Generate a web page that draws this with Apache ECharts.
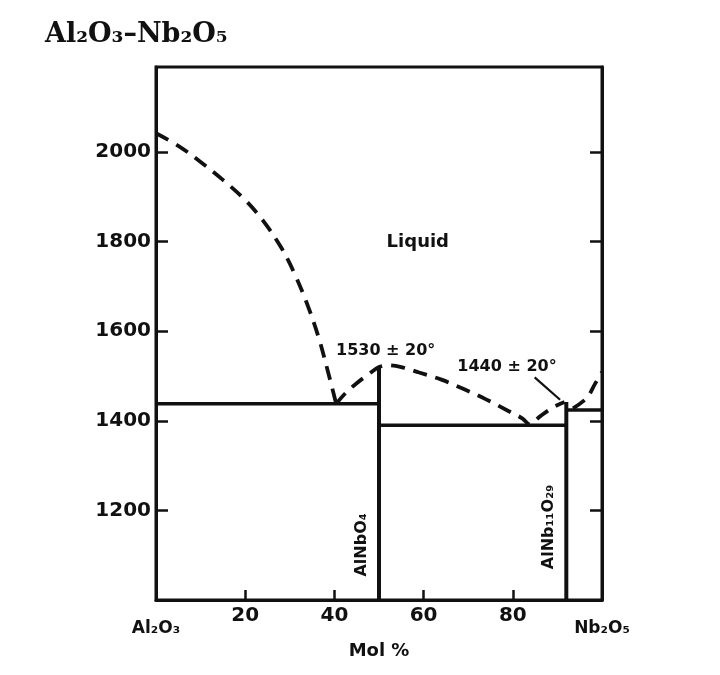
<!DOCTYPE html>
<html>
<head>
<meta charset="utf-8">
<script src="https://cdn.jsdelivr.net/npm/echarts@6/dist/echarts.min.js"></script>
<style>html,body{margin:0;padding:0;background:#fff;}#c{width:720px;height:675px;}</style>
</head>
<body>
<div id="c"></div>
<script>
// ---- data (mol % Nb2O5, temperature °C) ----
const xTicks = [0, 20, 40, 60, 80, 100];
const yTicks = [1000, 1200, 1400, 1600, 1800, 2000];
const endLabels = { 0: 'Al₂O₃', 100: 'Nb₂O₅' };

const liquidusAl2O3 = [[0,2042],[5,2014],[10,1978],[15,1938],[20,1893],[24,1847],[28,1788],[31,1730],[34,1658],[36.5,1585],[38.5,1512],[40.4,1438]];
const liquidusMiddle = [[40.4,1438],[42.5,1462],[45,1484],[47.5,1503],[50,1520],[52,1524],[55,1520],[59,1508],[64,1492],[69,1471],[74,1448],[79,1422],[82.2,1405],[83.8,1392],[86.1,1410],[89.0,1430],[91.6,1442]];
const liquidusNb2O5 = [[93.5,1428],[96.6,1451],[98.4,1482],[100,1509]];

const eutectic1 = [[0,1438],[50,1438]];
const alnbo4 = [[50,1000],[50,1520]];
const eutectic2 = [[50,1390],[92,1390]];
const alnb11o29 = [[92,1000],[92,1442]];
const solidusRight = [[92,1424],[100,1424]];
const pointer = [[84.9,1497],[90.6,1447]];

const annotationTexts = ['Liquid', '1530 ± 20°', '1440 ± 20°', 'AlNbO₄', 'AlNb₁₁O₂₉'];
const annotationAnchors = [[58.7,1799],[51.5,1556],[78.7,1521],[46.1,1123],[88.1,1163]];
const annotationRotate = [0, 0, 0, 90, 90];

const titleText = 'Al₂O₃–Nb₂O₅';
const xName = 'Mol %';
// ---------------------------------------------

const FONT = 'DejaVu Sans';
const INK = '#111';

const solid = (d, w) => ({ type: 'line', data: d, symbol: 'none', silent: true,
  lineStyle: { color: INK, width: w || 3.5, type: 'solid' }, z: 3 });
const dashed = d => ({ type: 'line', data: d, symbol: 'none', smooth: 0.35, silent: true,
  lineStyle: { color: INK, width: 3.8, type: [14, 9], cap: 'butt' }, z: 3 });

const annData = annotationTexts.map((t, i) => ({
  value: annotationAnchors[i],
  label: { show: true, formatter: t, rotate: annotationRotate[i], position: 'inside',
    fontFamily: FONT, fontWeight: 'bold', fontSize: i === 0 ? 18 : 16, color: INK, opacity: 1 }
}));

const chart = echarts.init(document.getElementById('c'), null, { renderer: 'canvas' });
chart.setOption({
  backgroundColor: '#fff',
  animation: false,
  title: { text: titleText, left: 40, top: 16,
    textStyle: { fontFamily: 'DejaVu Serif', fontWeight: 'bold', fontSize: 27, color: INK } },
  grid: { left: 156, right: 118, top: 67, bottom: 75, show: true, borderColor: INK, borderWidth: 3 },
  xAxis: {
    type: 'value', min: xTicks[0], max: xTicks[xTicks.length - 1], interval: 20,
    name: xName, nameLocation: 'middle', nameGap: 36,
    nameTextStyle: { fontFamily: FONT, fontWeight: 'bold', fontSize: 18, color: INK },
    axisLine: { show: true, lineStyle: { color: INK, width: 3 } },
    axisTick: { show: true, inside: true, length: 10, lineStyle: { color: INK, width: 2.5 },
      customValues: xTicks.slice(1, -1) },
    axisLabel: { fontFamily: FONT, fontWeight: 'bold', fontSize: 20, color: INK, margin: 6,
      formatter: v => endLabels[v] !== undefined ? '{e|' + endLabels[v] + '}' : String(v),
      rich: { e: { fontFamily: FONT, fontWeight: 'bold', fontSize: 17, color: INK, padding: [14, 0, 0, 0] } } },
    splitLine: { show: false }
  },
  yAxis: [{
    type: 'value', min: 1000, max: 2190, interval: 200, position: 'left',
    axisLine: { show: true, lineStyle: { color: INK, width: 3 } },
    axisTick: { show: true, inside: true, length: 12, lineStyle: { color: INK, width: 2.5 },
      customValues: yTicks.slice(1) },
    axisLabel: { fontFamily: FONT, fontWeight: 'bold', fontSize: 20, color: INK, margin: 5,
      customValues: yTicks.slice(1), formatter: v => String(v) },
    splitLine: { show: false }
  }, {
    type: 'value', min: 1000, max: 2190, interval: 200, position: 'right',
    axisLine: { show: true, lineStyle: { color: INK, width: 3 } },
    axisTick: { show: true, inside: true, length: 12, lineStyle: { color: INK, width: 2.5 },
      customValues: yTicks.slice(1) },
    axisLabel: { show: false },
    splitLine: { show: false }
  }],
  series: [
    dashed(liquidusAl2O3),
    dashed(liquidusMiddle),
    dashed(liquidusNb2O5),
    solid(eutectic1),
    solid(alnbo4, 4),
    solid(eutectic2),
    solid(alnb11o29, 4),
    solid(solidusRight),
    solid(pointer, 2.2),
    { type: 'scatter', data: annData, symbolSize: 1,
      itemStyle: { color: 'rgba(0,0,0,0)', opacity: 1 }, silent: true, z: 5 }
  ]
});
</script>
</body>
</html>
